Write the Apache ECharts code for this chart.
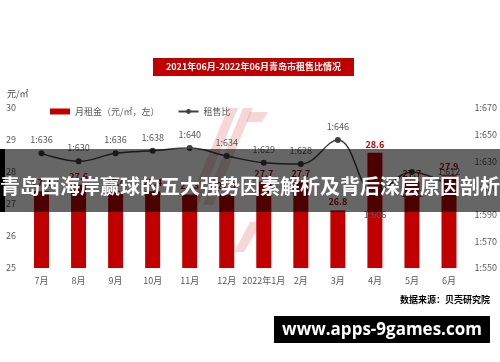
<!DOCTYPE html>
<html><head><meta charset="utf-8">
<script src="https://cdn.jsdelivr.net/npm/echarts@6/dist/echarts.min.js"></script>
<style>html,body{margin:0;padding:0;background:#fff}#c{width:500px;height:362px}</style>
</head><body><div id="c"></div>
<script>
var categories = ['7月','8月','9月','10月','11月','12月','2022年1月','2月','3月','4月','5月','6月'];
var rentValues = [27.4, 27.6, 27.4, 27.4, 27.3, 27.3, 27.7, 27.7, 26.8, 28.6, 27.7, 27.9];
var ratioValues = [636, 630, 636, 638, 640, 634, 629, 628, 646, 606, 622, 612];
var ratioLabelBelow = [false, false, false, false, false, false, false, false, false, true, true, false];
var leftTicks = [25, 30, 1];
var rightTicks = [550, 670, 20];
var FONT = '"Noto Sans CJK SC", "Noto Sans", sans-serif';

var ratioData = ratioValues.map(function(v, i){
  return ratioLabelBelow[i] ? {value: v, label: {position: 'bottom', distance: 14}} : v;
});

var chart = echarts.init(document.getElementById('c'), null, {renderer:'canvas'});
chart.setOption({
  animation: false,
  textStyle: {fontFamily: FONT},
  grid: {left: 23, right: 27, top: 108, bottom: 94},
  legend: {
    left: 45, top: 102, itemGap: 18, itemWidth: 20, itemHeight: 6,
    textStyle: {fontSize: 9, color: '#595959', fontFamily: FONT},
    data: [{name: '月租金（元/㎡，左）', icon: 'rect'}, {name: '租售比'}]
  },
  xAxis: {
    type: 'category', data: categories,
    axisLine: {show: false}, axisTick: {show: false},
    axisLabel: {fontSize: 9, color: '#595959', margin: 8, interval: 0}
  },
  yAxis: [
    {type: 'value', min: leftTicks[0], max: leftTicks[1], interval: leftTicks[2],
     splitLine: {show: false}, axisLine: {show: false}, axisTick: {show: false},
     axisLabel: {fontSize: 9, color: '#595959', margin: 6, align: 'left', padding: [0,0,0,-11]},
     name: '元/㎡', nameLocation: 'end', nameGap: 10,
     nameTextStyle: {fontSize: 9, color: '#404040', align: 'left', padding: [0,0,0,-16]}},
    {type: 'value', min: rightTicks[0], max: rightTicks[1], interval: rightTicks[2],
     splitLine: {show: false}, axisLine: {show: false}, axisTick: {show: false},
     axisLabel: {fontSize: 9, color: '#595959', margin: 7, formatter: function(v){return '1:' + v;}}}
  ],
  series: [
    {name: '月租金（元/㎡，左）', type: 'bar', data: rentValues, barWidth: 15, yAxisIndex: 0,
     itemStyle: {color: '#c00000'},
     label: {show: true, position: 'top', distance: 4, fontSize: 9, fontWeight: 'bold', color: '#c00000'}},
    {name: '租售比', type: 'line', data: ratioData, yAxisIndex: 1, smooth: 0.4,
     symbol: 'circle', symbolSize: 6,
     lineStyle: {color: '#404040', width: 1.5}, itemStyle: {color: '#404040'},
     label: {show: true, position: 'top', distance: 6, fontSize: 9, color: '#595959',
             formatter: function(p){return '1:' + p.value;}}}
  ],
  graphic: [
    {type: 'polygon', silent: true, z: -1, shape: {points: [[228,108],[238,108],[198,205],[188,205]]}, style: {fill: 'rgba(215,70,70,0.22)'}},
    {type: 'polygon', silent: true, z: -1, shape: {points: [[243,108],[253,108],[213,205],[203,205]]}, style: {fill: 'rgba(215,70,70,0.22)'}},
    {type: 'polygon', silent: true, z: -1, shape: {points: [[250,112],[268,112],[262,122],[246,122]]}, style: {fill: 'rgba(215,70,70,0.22)'}},
    {type: 'polygon', silent: true, z: -1, shape: {points: [[250,222],[262,222],[244,252],[234,252]]}, style: {fill: 'rgba(215,70,70,0.22)'}},
    {type: 'rect', shape: {x: 153, y: 58, width: 201, height: 18}, style: {fill: '#c00000'}},
    {type: 'text', x: 253.5, y: 67, style: {text: '2021年06月-2022年06月青岛市租售比情况', fill: '#fff', font: 'bold 9px ' + FONT, align: 'center', verticalAlign: 'middle'}},
    {type: 'text', x: 490, y: 300, style: {text: '数据来源：贝壳研究院', fill: '#000', font: 'bold 9px ' + FONT, align: 'right', verticalAlign: 'middle'}},
    {type: 'rect', z: 100, shape: {x: 0, y: 149, width: 500, height: 63}, style: {fill: 'rgba(0,0,0,0.6)'}},
    {type: 'rect', z: 100, shape: {x: 0, y: 149, width: 5, height: 63}, style: {fill: '#000'}},
    {type: 'text', z: 101, x: 250, y: 186, style: {text: '青岛西海岸赢球的五大强势因素解析及背后深层原因剖析', fill: '#fff', font: 'bold 20px ' + FONT, align: 'center', verticalAlign: 'middle'}},
    {type: 'rect', z: 100, shape: {x: 274, y: 316, width: 216, height: 27}, style: {fill: '#000'}},
    {type: 'text', z: 101, x: 382, y: 330, style: {text: 'www.apps-9games.com', fill: '#fff', font: 'bold 17px "Open Sans", "DejaVu Sans", sans-serif', align: 'center', verticalAlign: 'middle'}}
  ]
});
</script></body></html>
